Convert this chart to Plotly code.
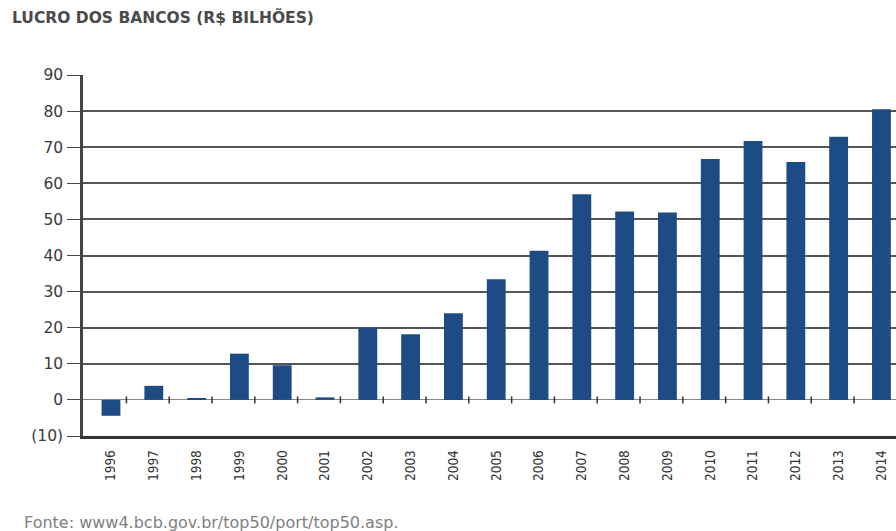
import plotly.graph_objects as go

years = list(range(1996, 2015))
year_labels = [str(y) for y in years]
lucro = [-4.4, 3.9, 0.5, 12.8, 9.6, 0.7, 19.9, 18.2, 24.0, 33.4, 41.3, 57.0,
         52.2, 51.9, 66.7, 71.7, 65.9, 72.9, 80.5]
y_ticks = [-10, 0, 10, 20, 30, 40, 50, 60, 70, 80, 90]
y_tick_labels = ["(10)", "0", "10", "20", "30", "40", "50", "60", "70", "80", "90"]

title_text = "LUCRO DOS BANCOS (R$ BILHÕES)"
source_text = "Fonte: www4.bcb.gov.br/top50/port/top50.asp."

fig = go.Figure()
fig.add_trace(go.Bar(
    x=years, y=lucro,
    marker=dict(color="#1d4c85", line=dict(width=0)),
    width=0.44,
    hoverinfo="x+y",
))
# small category-separator ticks on the zero line
fig.add_trace(go.Scatter(
    x=[y + 0.36 for y in years], y=[0] * len(years),
    mode="markers",
    marker=dict(symbol="line-ns", size=5, line=dict(color="#333", width=1.5)),
    hoverinfo="skip",
))

fig.update_layout(
    width=896, height=531,
    margin=dict(l=83, r=0, t=75, b=95),
    paper_bgcolor="white", plot_bgcolor="white",
    showlegend=False,
    font=dict(family="DejaVu Sans", color="#333"),
    xaxis=dict(
        range=[1995.346, 2014.34],
        tickmode="array", tickvals=years, ticktext=year_labels,
        tickangle=-90,
        tickfont=dict(family="Liberation Sans Narrow, DejaVu Sans Condensed, sans-serif", size=13.5, color="#333"),
        showgrid=False, zeroline=False,
        showline=True, linecolor="#333", linewidth=2.5,
        ticks="", ticklabelstandoff=6,
    ),
    yaxis=dict(
        range=[-10, 90],
        tickmode="array", tickvals=y_ticks, ticktext=y_tick_labels,
        tickfont=dict(family="DejaVu Sans", size=15.5, color="#3a3a3a"),
        showgrid=True, gridcolor="#555", gridwidth=1.5,
        zeroline=True, zerolinecolor="#888", zerolinewidth=1.3,
        showline=True, linecolor="#444", linewidth=2.5,
        ticks="outside", ticklen=13, tickcolor="#444", tickwidth=1.3,
        ticklabelstandoff=1,
    ),
    annotations=[
        dict(text=title_text, xref="paper", yref="paper", x=-73/813, y=1 + (75 - 18) / 361,
             xanchor="left", yanchor="middle", showarrow=False,
             font=dict(family="DejaVu Sans", size=15.5, color="#4a4a4a", weight="bold")),
        dict(text=source_text, xref="paper", yref="paper", x=-61/813, y=-(522 - 436) / 361,
             xanchor="left", yanchor="middle", showarrow=False,
             font=dict(family="DejaVu Sans", size=16, color="#808080")),
    ],
)

fig.write_html("out.html")
